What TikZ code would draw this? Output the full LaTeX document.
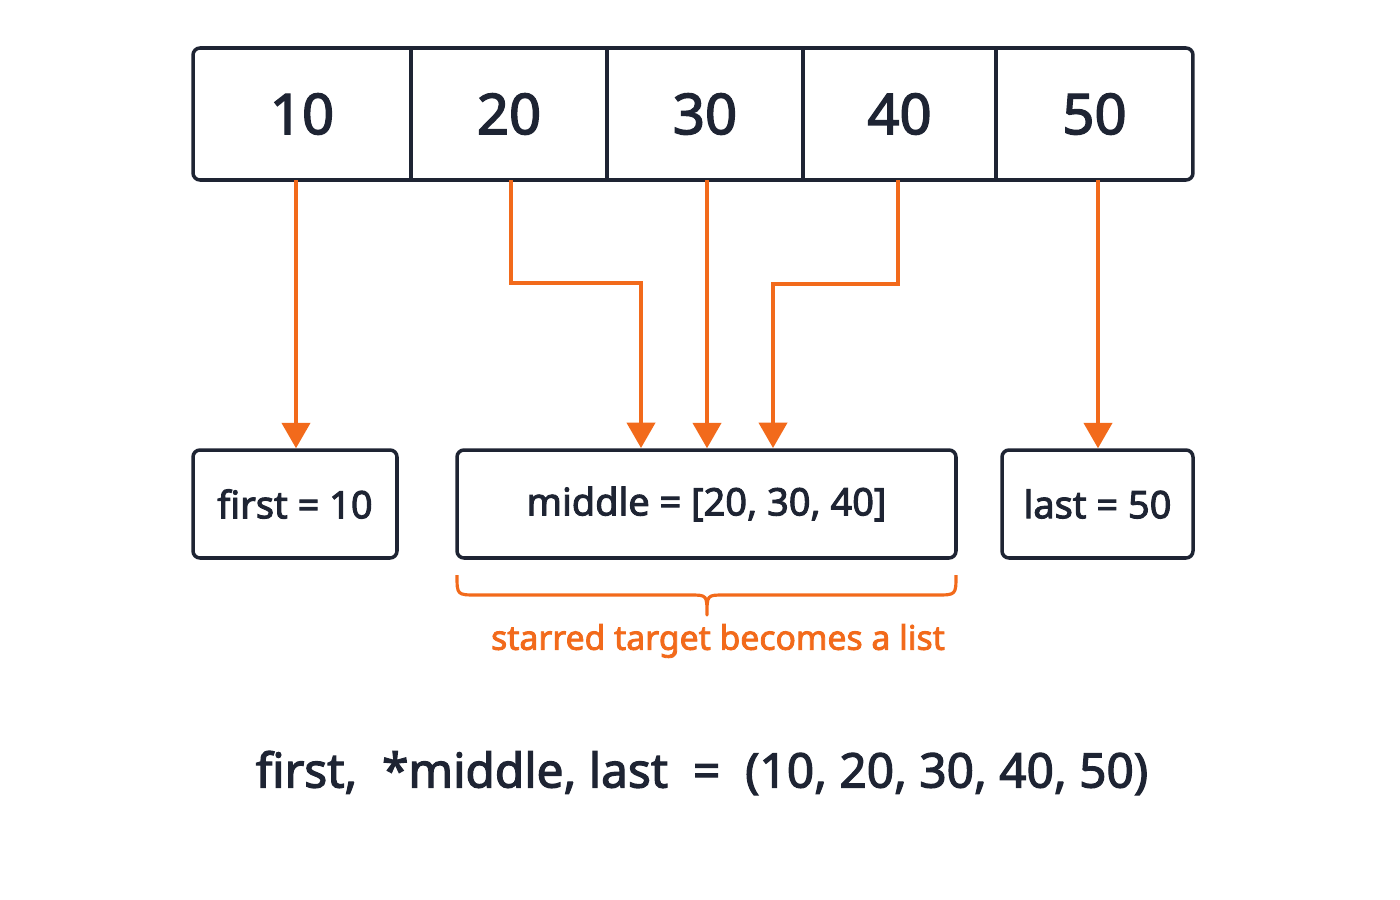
\documentclass[tikz,border=0pt]{standalone}
\usepackage{fontspec}
\setmainfont{Noto Sans}[FakeBold=2.5]
\usetikzlibrary{arrows.meta}
\definecolor{ink}{HTML}{1E2433}
\definecolor{org}{HTML}{F26A1B}
\begin{document}
\begin{tikzpicture}[x=0.05cm,y=-0.05cm,
  cell/.style={minimum height=66mm,inner sep=0pt,text=ink,font=\fontsize{80}{90}\selectfont},
  box/.style={draw=ink,line width=5pt,rounded corners=10pt,minimum height=54mm,inner sep=0pt,text=ink,font=\fontsize{54}{62}\selectfont},
  arr/.style={draw=org,line width=5pt,-{Triangle[length=36pt,width=40pt]}}]
\useasboundingbox (0,0) rectangle (1400,900);
\node[draw=ink,line width=5pt,rounded corners=10pt,minimum width=500mm,minimum height=66mm,inner sep=0pt] (frame) at (693,114) {};
\node[cell,minimum width=109mm] (c1) at (302,114) {10};
\node[cell,minimum width=98mm] (c2) at (509,114) {20};
\node[cell,minimum width=98mm] (c3) at (705,114) {30};
\node[cell,minimum width=96.5mm] (c4) at (899.5,114) {40};
\node[cell,minimum width=98.5mm] (c5) at (1094.5,114) {50};
\foreach \c in {c1,c2,c3,c4}{\draw[ink,line width=5pt] (\c.north east) -- (\c.south east);}
\node[box,minimum width=102mm] (b1) at (295,504) {first = 10};
\node[box,minimum width=249.5mm] (b2) at (706.5,504) {middle = [20, 30, 40]};
\node[box,minimum width=95.5mm] (b3) at (1097.5,504) {last = 50};
\coordinate (t1) at (641,448);
\coordinate (t3) at (773,448);
\draw[arr] (c1.south -| 296,0) -- (b1.north -| 296,0);
\draw[arr] (c2.south -| 511,0) |- (641,283) -- (t1);
\draw[arr] (c3.south -| 707,0) -- (b2.north -| 707,0);
\draw[arr] (c4.south -| 898,0) |- (773,284) -- (t3);
\draw[arr] (c5.south -| 1098,0) -- (b3.north -| 1098,0);
\draw[org,line width=4.5pt,line join=round] (457,575) .. controls (457,595) .. (477,595) -- (690,595) .. controls (707,595) .. (707,615) .. controls (707,595) .. (724,595) -- (936,595) .. controls (956,595) .. (956,575);
\node[text=org,font=\fontsize{48}{56}\selectfont] (note) at (718,641) {starred target becomes a list};
\node[text=ink,font=\fontsize{68}{76}\selectfont] (code) at (702,773) {first,\ \ *middle,\ last\ \ =\ \ (10, 20, 30, 40, 50)};
\end{tikzpicture}
\end{document}
